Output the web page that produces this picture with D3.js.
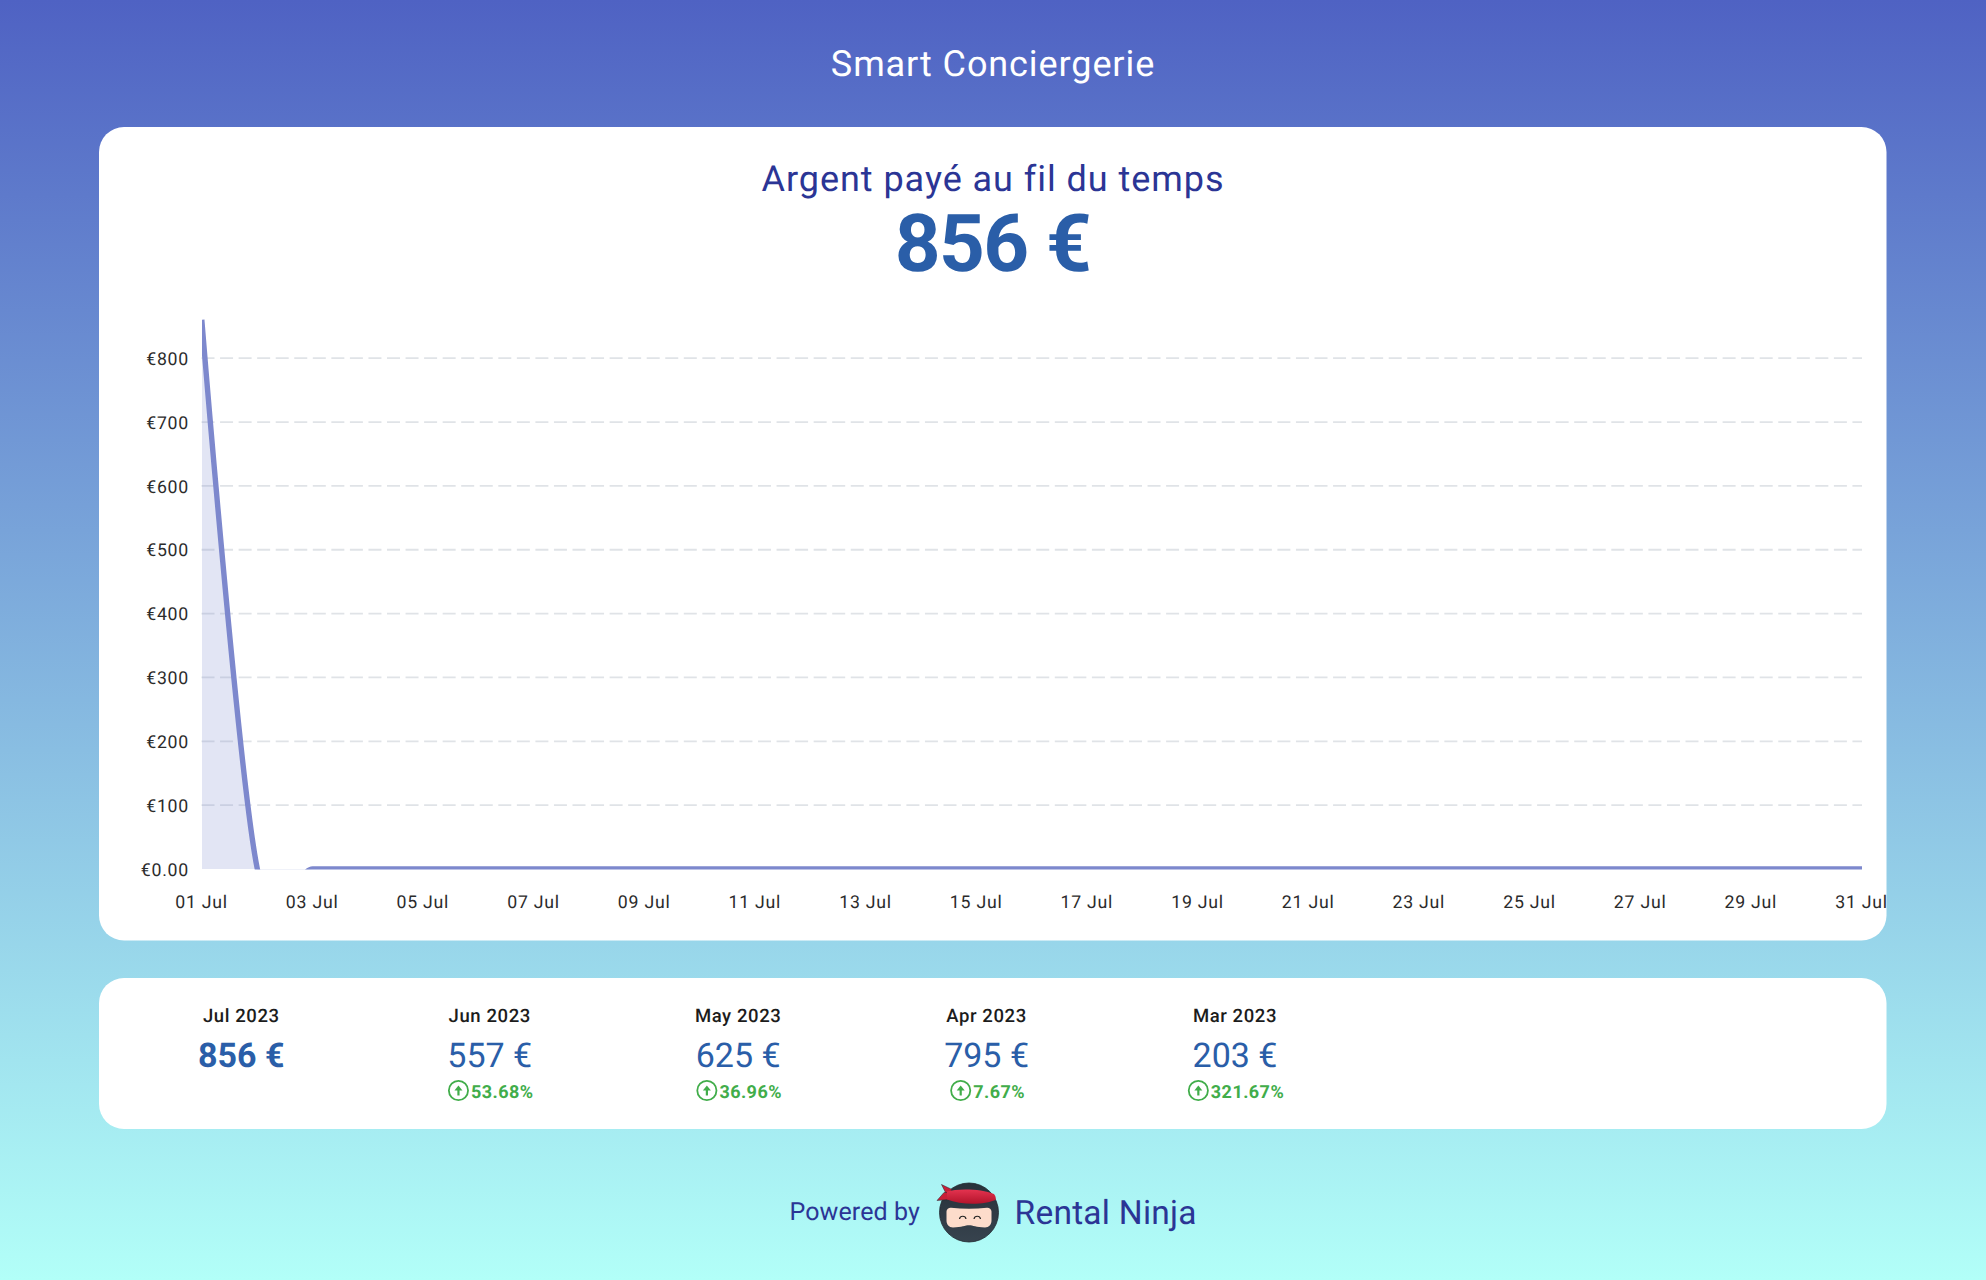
<!DOCTYPE html>
<html><head><meta charset="utf-8">
<script src="https://cdn.jsdelivr.net/npm/d3@7"></script>
<style>
html,body{margin:0;padding:0;width:1986px;height:1280px;overflow:hidden}
svg{display:block;font-family:Roboto,sans-serif;text-rendering:geometricPrecision}
</style></head><body>
<svg id="c" width="1986" height="1280"></svg>
<script>
const brandName = "Smart Conciergerie";
const chartTitle = "Argent payé au fil du temps";
const chartTotal = "856 €";
const days = ["2023-07-01","2023-07-02","2023-07-03","2023-07-04","2023-07-05","2023-07-06","2023-07-07","2023-07-08","2023-07-09","2023-07-10","2023-07-11","2023-07-12","2023-07-13","2023-07-14","2023-07-15","2023-07-16","2023-07-17","2023-07-18","2023-07-19","2023-07-20","2023-07-21","2023-07-22","2023-07-23","2023-07-24","2023-07-25","2023-07-26","2023-07-27","2023-07-28","2023-07-29","2023-07-30","2023-07-31"];
const paid = [856,0,0,0,0,0,0,0,0,0,0,0,0,0,0,0,0,0,0,0,0,0,0,0,0,0,0,0,0,0,0];
const yTicks = [0,100,200,300,400,500,600,700,800];
const xTicks = ["2023-07-01","2023-07-03","2023-07-05","2023-07-07","2023-07-09","2023-07-11","2023-07-13","2023-07-15","2023-07-17","2023-07-19","2023-07-21","2023-07-23","2023-07-25","2023-07-27","2023-07-29","2023-07-31"];
const months = ["Jul 2023","Jun 2023","May 2023","Apr 2023","Mar 2023"];
const monthValues = ["856 €","557 €","625 €","795 €","203 €"];
const monthChanges = [null,"53.68%","36.96%","7.67%","321.67%"];

const svg = d3.select("#c");
const defs = svg.append("defs");
const bg = defs.append("linearGradient").attr("id","bg").attr("x1",0).attr("x2",0).attr("y1",0).attr("y2",1);
bg.append("stop").attr("offset",0).attr("stop-color","#4f62c3");
bg.append("stop").attr("offset",1).attr("stop-color","#b2fff8");
svg.append("rect").attr("width",1986).attr("height",1280).attr("fill","url(#bg)");

svg.append("rect").attr("x",99).attr("y",127).attr("width",1787.5).attr("height",813.5).attr("rx",25).attr("fill","#fff");
svg.append("rect").attr("x",99).attr("y",978).attr("width",1787.5).attr("height",151).attr("rx",25).attr("fill","#fff");

function label(x,y,t,size,weight,fill,anchor,ls){
  return svg.append("text").attr("x",x).attr("y",y).attr("font-size",size).attr("font-weight",weight)
    .attr("fill",fill).attr("text-anchor",anchor||"middle").attr("letter-spacing",ls||0).text(t);
}
label(993,75.5,brandName,36,400,"#ffffff","middle",0.9);
label(993,190.5,chartTitle,36,400,"#2b3595","middle",0.95);
label(992.5,271,chartTotal,80,700,"#2a5ea8","middle",-1.6);

// chart
const parse = d3.utcParse("%Y-%m-%d");
const fmtX = d3.utcFormat("%d %b");
const x = d3.scaleUtc().domain([parse(days[0]),parse(days[days.length-1])]).range([202,1862]);
const y = d3.scaleLinear().domain([0,800]).range([869,358.2]);

const gridG = svg.append("g");
gridG.selectAll("line").data(yTicks.slice(1)).join("line")
  .attr("x1",201.5).attr("x2",1862).attr("y1",d=>y(d)).attr("y2",d=>y(d))
  .attr("stroke","#e0e3e7").attr("stroke-width",1.8).attr("stroke-dasharray","13,5.55");

defs.append("clipPath").attr("id","plot").append("rect").attr("x",202).attr("y",300).attr("width",1660).attr("height",569.5);
const pts = days.map((d,i)=>({d:parse(d),v:paid[i]}));
const curve = d3.curveCardinal.tension(0);
const plot = svg.append("g").attr("clip-path","url(#plot)");
plot.append("path").datum(pts).attr("fill","#7d88cd").attr("fill-opacity",0.22)
  .attr("d",d3.area().x(d=>x(d.d)).y0(y(0)).y1(d=>y(d.v)).curve(curve));
plot.append("path").datum(pts).attr("fill","none").attr("stroke","#7d88cd").attr("stroke-width",5.4).attr("stroke-linecap","square")
  .attr("d",d3.line().x(d=>x(d.d)).y(d=>y(d.v)).curve(curve));

const yAxis = svg.append("g").attr("transform","translate(189,0.5)")
  .call(d3.axisLeft(y).tickValues(yTicks).tickSize(0).tickPadding(0).tickFormat(d=>d===0?"€0.00":"€"+d));
const xAxis = svg.append("g").attr("transform","translate(-1,869)")
  .call(d3.axisBottom(x).tickValues(xTicks.map(parse)).tickSize(0).tickPadding(26.7).tickFormat(fmtX));
[yAxis,xAxis].forEach(a=>{a.select(".domain").remove();
  a.selectAll("text").attr("font-family","Roboto").attr("font-size",17.7).attr("fill","#2b2b2b").attr("letter-spacing",0.75);});

// monthly strip
const mx = d3.scalePoint().domain(months).range([241.3,1235]);
months.forEach((m,i)=>{
  const cx = mx(m);
  label(cx,1021.7,m,18.5,500,"#1c1c1c","middle",0.6);
  label(cx,1066.5,monthValues[i],34,i===0?700:400,"#2a5ea8");
  if(monthChanges[i]){
    const t = label(0,1098,monthChanges[i],18,700,"#41ad4a","start",0.45);
    const w = t.node().getComputedTextLength();
    const total = 23 + w;
    const left = cx - total/2 + 1;
    t.attr("x",left+23);
    const g = svg.append("g").attr("transform",`translate(${left+10.5},1090.5)`);
    g.append("circle").attr("r",9.6).attr("fill","none").attr("stroke","#41ad4a").attr("stroke-width",1.8);
    g.append("path").attr("d","M0,5V-1").attr("fill","none").attr("stroke","#41ad4a").attr("stroke-width",2.2);
    g.append("path").attr("d","M-4,0L0,-5L4,0Z").attr("fill","#41ad4a");
  }
});

// footer
label(789.5,1220,"Powered by",25,400,"#2b3595","start",0.1);
label(1014.5,1223.5,"Rental Ninja",33.5,400,"#2b3595","start",0.25);
const logo = svg.append("g").attr("transform","translate(969,1212.5)");
const lg = defs.append("linearGradient").attr("id","band").attr("x1",0).attr("x2",0).attr("y1",0).attr("y2",1);
lg.append("stop").attr("offset",0).attr("stop-color","#e4334f");
lg.append("stop").attr("offset",1).attr("stop-color","#b3142c");
const hd = defs.append("linearGradient").attr("id","head").attr("x1",0).attr("x2",0).attr("y1",0).attr("y2",1);
hd.append("stop").attr("offset",0).attr("stop-color","#28313a");
hd.append("stop").attr("offset",1).attr("stop-color","#37434e");
logo.append("circle").attr("r",29.5).attr("fill","url(#head)").attr("stroke","#20272e").attr("stroke-width",0.8);
logo.append("path").attr("d","M-27.500,-28L-17,-23L-22,-17Z").attr("fill","#c81e38").attr("stroke","#20272e").attr("stroke-width",0.5);
logo.append("path").attr("d","M-32,-12L-25,-20L-16,-20L-20,-13Z").attr("fill","#c81e38").attr("stroke","#20272e").attr("stroke-width",0.5);
logo.append("path").attr("d","M-22,-21C-12,-24 12,-24 25,-18.500C27,-16 27,-14 26.500,-12.500C15,-7.500 -8,-7.500 -22,-13Z").attr("fill","url(#band)");
logo.append("path").attr("d","M-22.500,-1C-22.500,-3.500 -20,-5 -18,-4.800C-6,-3.500 6,-3.500 18,-4.800C20,-5 22.500,-3.500 22.500,-1V8C22.500,12 20,15 16,15C7,15 4,12.800 0,12.800C-4,12.800 -7,15 -16,15C-20,15 -22.500,12 -22.500,8Z").attr("fill","#fddccb");
logo.append("path").attr("d","M-9.500,6.500A3.300,3.300 0 0 1 -3,6.500M5,6.500A3.300,3.300 0 0 1 11.500,6.500").attr("fill","none").attr("stroke","#222").attr("stroke-width",1.2);
</script>
</body></html>
